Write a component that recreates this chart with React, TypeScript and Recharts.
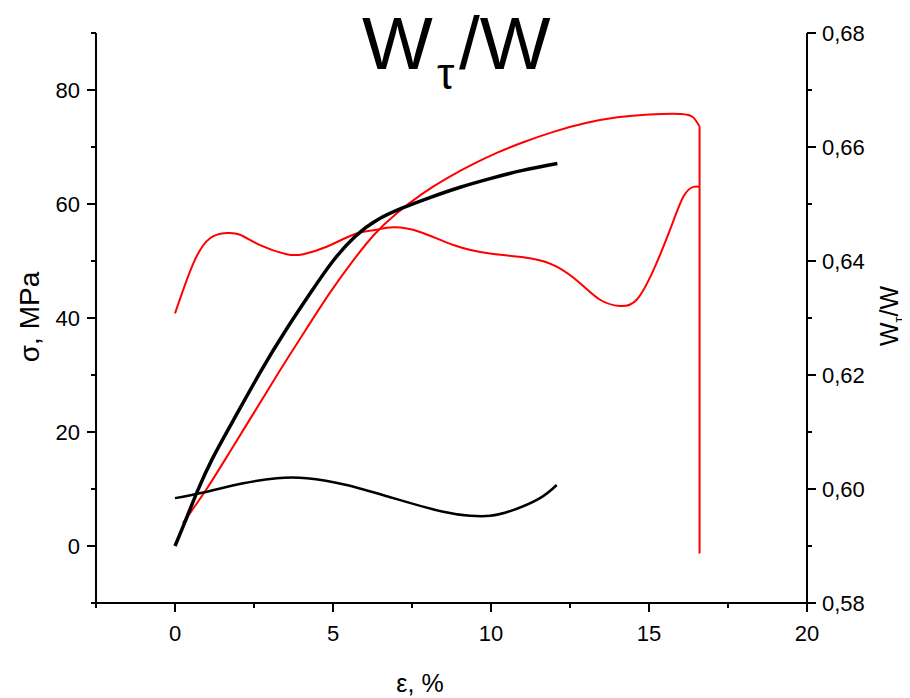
import React from 'react';
import { ComposedChart, Line, XAxis, YAxis } from 'recharts';

// ---- axis ticks ----
const strainTicks = [-2.5, 0, 2.5, 5, 7.5, 10, 12.5, 15, 17.5, 20];
const stressTicks = [-10, 0, 10, 20, 30, 40, 50, 60, 70, 80, 90];
const ratioTicks = [0.58, 0.59, 0.6, 0.61, 0.62, 0.63, 0.64, 0.65, 0.66, 0.67, 0.68];

// ---- black stress-strain curve (left axis) ----
const blackStressX = [0, 0.3, 0.7, 1.2, 1.85, 2.7, 3.5, 4.3, 5.0, 5.7, 6.4, 7.2, 8, 9, 10, 11, 12.1];
const blackStressY = [0, 4, 9.5, 15.5, 22.1, 30.5, 37.8, 44.5, 50, 54.3, 57.2, 59.3, 61, 62.9, 64.5, 65.9, 67.1];

// ---- red stress-strain curve (left axis) ----
const redStressX = [0.25, 1, 1.7, 2.5, 3.3, 4.1, 4.9, 5.6, 6.3, 7.0, 7.8, 8.6, 9.4, 10.2, 11, 12, 13, 14, 15, 16, 16.4, 16.6];
const redStressY = [4, 10, 16.2, 23.4, 30.6, 37.6, 44.4, 49.8, 54.6, 58.3, 61.7, 64.5, 66.9, 69, 70.8, 72.7, 74.2, 75.2, 75.7, 75.8, 75.2, 73.6];
const redDropX = [16.6, 16.6];
const redDropY = [73.6, -1.3];

// ---- red Wτ/W curve (right axis) ----
const redRatioX = [0, 0.58, 1.11, 1.64, 2.06, 2.69, 3.53, 4.06, 4.8, 5.64, 6.28, 6.91, 7.75, 8.81, 9.97, 11.23, 12.08, 12.82, 13.45, 14.08, 14.61, 15.14, 15.66, 16.09, 16.41, 16.6];
const redRatioY = [0.6308, 0.6396, 0.644, 0.6449, 0.6446, 0.6428, 0.6412, 0.6412, 0.6425, 0.6446, 0.6454, 0.6459, 0.6451, 0.6428, 0.6413, 0.6405, 0.639, 0.6361, 0.6332, 0.6321, 0.6332, 0.6384, 0.6454, 0.6513, 0.653, 0.653];

// ---- black Wτ/W curve (right axis) ----
const blackRatioX = [0, 0.9, 2.16, 3.22, 4.17, 5.43, 6.91, 8.49, 9.34, 9.97, 10.7, 11.55, 12.08];
const blackRatioY = [0.5984, 0.5994, 0.601, 0.6019, 0.6019, 0.6007, 0.5984, 0.596, 0.5953, 0.5953, 0.5963, 0.5984, 0.6007];

const zip = (xs: number[], ys: number[]) => xs.map((x, i) => ({ x, y: ys[i] }));

const FONT = '"Liberation Sans", Arial, sans-serif';
const TICK_FS = 22;

const LeftTick = (props: any) => {
  const { x, y, payload } = props;
  const v = payload.value;
  const major = Math.abs(v % 20) < 1e-9;
  return (
    <g>
      <line x1={x} x2={x - (major ? 9 : 5)} y1={y} y2={y} stroke="#000" strokeWidth={2} />
      {major && (
        <text x={x - 16} y={y} textAnchor="end" dominantBaseline="central" fontSize={TICK_FS} fontFamily={FONT} fill="#000">
          {v}
        </text>
      )}
    </g>
  );
};

const RightTick = (props: any) => {
  const { x, y, payload } = props;
  const v = payload.value;
  const major = Math.round(v * 100) % 2 === 0;
  return (
    <g>
      <line x1={x} x2={x + (major ? 9 : 5)} y1={y} y2={y} stroke="#000" strokeWidth={2} />
      {major && (
        <text x={x + 15} y={y} textAnchor="start" dominantBaseline="central" fontSize={TICK_FS} fontFamily={FONT} fill="#000">
          {v.toFixed(2).replace('.', ',')}
        </text>
      )}
    </g>
  );
};

const BottomTick = (props: any) => {
  const { x, y, payload } = props;
  const v = payload.value;
  const major = Math.abs(v % 5) < 1e-9;
  return (
    <g>
      <line x1={x} x2={x} y1={y} y2={y + (major ? 9 : 5)} stroke="#000" strokeWidth={2} />
      {major && (
        <text x={x} y={y + 30} textAnchor="middle" dominantBaseline="central" fontSize={TICK_FS} fontFamily={FONT} fill="#000">
          {v}
        </text>
      )}
    </g>
  );
};

export default function App() {
  const W = 900;
  const H = 690;
  return (
    <div style={{ position: 'relative', width: W, height: H, background: '#fff' }}>
      <ComposedChart width={W} height={H} margin={{ top: 25, right: 11, bottom: 25, left: 8 }}>
        <XAxis
          dataKey="x"
          type="number"
          domain={[-2.5, 20]}
          ticks={strainTicks}
          interval={0}
          allowDataOverflow
          tickSize={0}
          tickMargin={0}
          tickLine={false}
          tick={<BottomTick />}
          axisLine={{ stroke: '#000', strokeWidth: 2 }}
          height={70}
        />
        <YAxis
          yAxisId="left"
          type="number"
          domain={[-10, 90]}
          ticks={stressTicks}
          interval={0}
          allowDataOverflow
          tickSize={0}
          tickMargin={0}
          tickLine={false}
          tick={<LeftTick />}
          axisLine={{ stroke: '#000', strokeWidth: 2 }}
          width={80}
        />
        <YAxis
          yAxisId="right"
          orientation="right"
          type="number"
          domain={[0.58, 0.68]}
          ticks={ratioTicks}
          interval={0}
          allowDataOverflow
          tickSize={0}
          tickMargin={0}
          tickLine={false}
          tick={<RightTick />}
          axisLine={{ stroke: '#000', strokeWidth: 2 }}
          width={90}
        />
        <Line yAxisId="left" data={zip(redStressX, redStressY)} dataKey="y" type="natural" stroke="#ff0000" strokeWidth={2} dot={false} isAnimationActive={false} />
        <Line yAxisId="left" data={zip(redDropX, redDropY)} dataKey="y" type="linear" stroke="#ff0000" strokeWidth={2} dot={false} isAnimationActive={false} />
        <Line yAxisId="right" data={zip(redRatioX, redRatioY)} dataKey="y" type="natural" stroke="#ff0000" strokeWidth={2} dot={false} isAnimationActive={false} />
        <Line yAxisId="right" data={zip(blackRatioX, blackRatioY)} dataKey="y" type="natural" stroke="#000" strokeWidth={2.5} dot={false} isAnimationActive={false} />
        <Line yAxisId="left" data={zip(blackStressX, blackStressY)} dataKey="y" type="natural" stroke="#000" strokeWidth={3.5} dot={false} isAnimationActive={false} />
      </ComposedChart>
      <svg width={910} height={698} style={{ position: 'absolute', left: -8, top: -8, pointerEvents: 'none' }}>
        <text fontFamily={FONT} fill="#000">
          <tspan x={362} y={69} fontSize={75}>W</tspan>
          <tspan x={437} y={89} fontSize={44}>τ</tspan>
          <tspan x={459} y={69} fontSize={75}>/W</tspan>
        </text>
        <text transform="translate(39 317) rotate(-90)" x={0} y={0} textAnchor="middle" fontSize={28} fontFamily={FONT} fill="#000">
          σ, MPa
        </text>
        <text x={420} y={683} textAnchor="middle" dominantBaseline="central" fontSize={25} fontFamily={FONT} fill="#000">
          ε, %
        </text>
        <text transform="translate(898 316) rotate(-90)" textAnchor="middle" fontFamily={FONT} fill="#000" fontSize={25}>
          <tspan x={0} y={0}>W</tspan>
          <tspan dy={6} fontSize={15}>τ</tspan>
          <tspan dy={-6} fontSize={25}>/W</tspan>
        </text>
      </svg>
    </div>
  );
}
